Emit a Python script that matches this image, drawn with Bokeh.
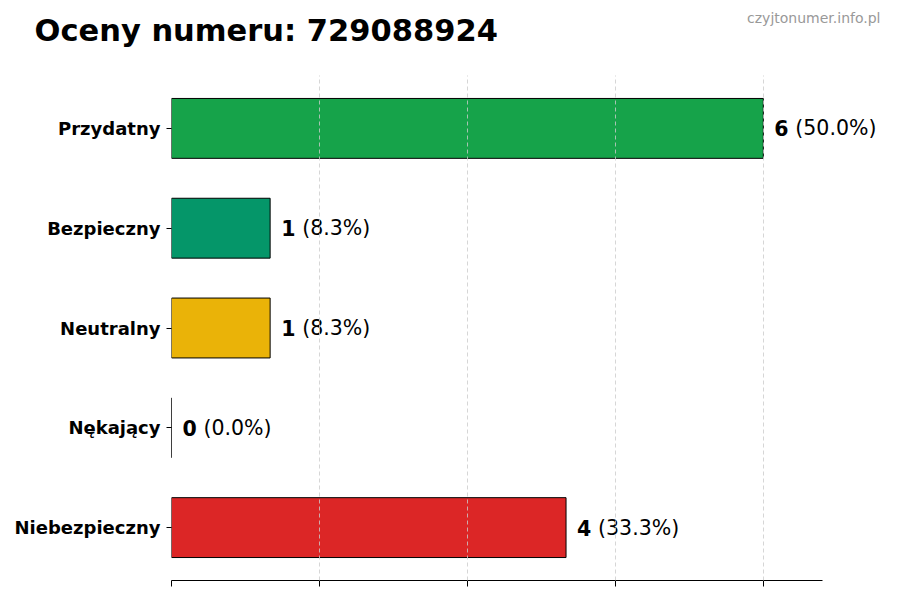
from bokeh.plotting import figure
from bokeh.layouts import column
from bokeh.models import FactorRange, Range1d, FixedTicker, ColumnDataSource, Label
from bokeh.core.properties import value
from bokeh.embed import file_html
from bokeh.resources import INLINE

title_text = "Oceny numeru: 729088924"
watermark = "czyjtonumer.info.pl"
categories = ["Przydatny", "Bezpieczny", "Neutralny", "Nękający", "Niebezpieczny"]
counts = [6, 1, 1, 0, 4]
colors = ["#16a34a", "#059669", "#eab308", "#64748b", "#dc2626"]
x_ticks = [0, 1.5, 3, 4.5, 6]

total = sum(counts)
pcts = ["(%.1f%%)" % (100.0 * c / total) for c in counts]
nums = [str(c) for c in counts]

src = ColumnDataSource(dict(cat=categories, cnt=counts, col=colors, num=nums, pct=pcts))

FONT = "DejaVu Sans"
W, H_HEAD, H_MAIN = 900, 75, 525

# ---- header (title + watermark) ----
head = figure(width=W, height=H_HEAD, output_backend="svg", toolbar_location=None,
              x_range=Range1d(0, W), y_range=Range1d(H_HEAD, 0),
              x_axis_location=None, y_axis_location=None,
              min_border=0, outline_line_color=None)
head.frame_align = False
head.grid.visible = False
head.add_layout(Label(x=34, y=30, text=title_text, text_align="left",
                      text_baseline="middle", text_font=FONT, text_font_style="bold",
                      text_font_size="30.5px", text_color="#000000"))
head.add_layout(Label(x=880, y=17, text=watermark, text_align="right",
                      text_baseline="middle", text_font=FONT,
                      text_font_size="14px", text_color="#999999"))

# ---- main chart ----
x_axis_max = max(counts) * 1.1
frame_left, frame_right_axis = 171, 822
x_view_max = x_axis_max * (W - frame_left) / (frame_right_axis - frame_left)

p = figure(width=W, height=H_MAIN, output_backend="svg", toolbar_location=None,
           y_range=FactorRange(factors=categories[::-1], range_padding=0.012),
           x_range=Range1d(0, x_view_max),
           min_border_left=frame_left, min_border_right=0, min_border_top=0,
           min_border_bottom=20)
p.frame_align = False

p.hbar(y="cat", right="cnt", left=0, height=0.6, source=src, fill_color="col",
       line_color="#000000", line_width=1)

p.text(x="cnt", y="cat", text="num", source=src, x_offset=11, text_baseline="middle",
       text_align="left", text_font=value(FONT), text_font_style="bold",
       text_font_size="20.5px", text_color="#000000")
p.text(x="cnt", y="cat", text="pct", source=src, x_offset=32, text_baseline="middle",
       text_align="left", text_font=value(FONT), text_font_style="normal",
       text_font_size="20.5px", text_color="#000000")

p.outline_line_color = None
p.ygrid.grid_line_color = None
p.xgrid.ticker = FixedTicker(ticks=x_ticks)
p.xgrid.grid_line_color = "#cccccc"
p.xgrid.grid_line_dash = "4 3"
p.xgrid.grid_line_alpha = 0.8
p.xgrid.level = "annotation"

p.xaxis.ticker = FixedTicker(ticks=x_ticks)
p.xaxis.bounds = (0, x_axis_max)
p.xaxis.major_label_overrides = {t: "" for t in x_ticks}
p.xaxis.major_label_standoff = 0
p.xaxis.minor_tick_line_color = None
p.xaxis.major_tick_out = 6
p.xaxis.major_tick_in = 0
p.xaxis.axis_line_color = "#000000"

p.yaxis.axis_line_color = None
p.yaxis.major_tick_out = 5
p.yaxis.major_tick_in = 0
p.yaxis.major_label_text_font = FONT
p.yaxis.major_label_text_font_style = "bold"
p.yaxis.major_label_text_font_size = "18px"
p.yaxis.major_label_text_color = "#000000"
p.yaxis.major_label_standoff = 6

layout = column(head, p, spacing=0)
open("out.html", "w").write(file_html(layout, INLINE))
